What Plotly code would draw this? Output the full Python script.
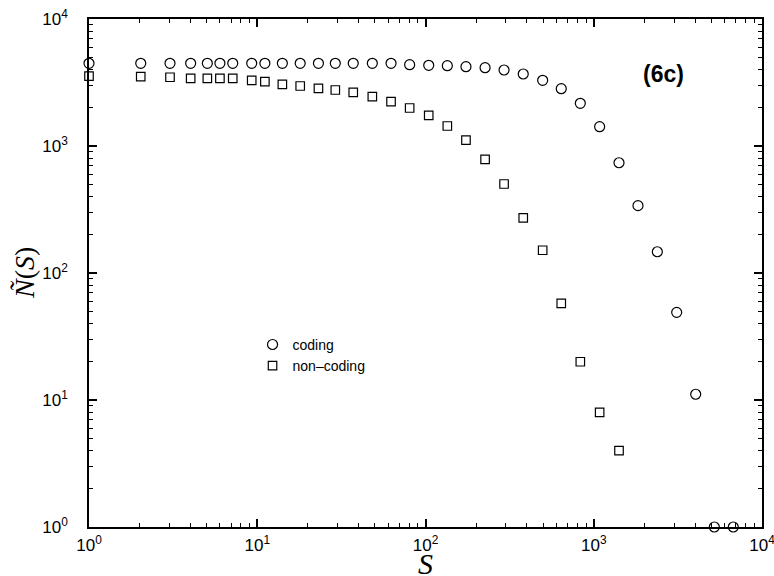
import plotly.graph_objects as go

# Data (log-binned S)
s_coding = [1, 2.03, 3.03, 4.02, 5.05, 6.0, 7.15, 9.27, 11.1, 14.1, 18.0, 23.1, 29.1, 37.2,
            48.3, 62.4, 80.5, 104.5, 134.8, 174, 226, 293, 381, 497, 641, 832, 1084, 1413,
            1832, 2387, 3111, 4036, 5207, 6750]
n_coding = [4480, 4480, 4480, 4480, 4480, 4480, 4480, 4480, 4480, 4480, 4480, 4480, 4480, 4480,
            4480, 4480, 4365, 4318, 4290, 4210, 4137, 3966, 3690, 3290, 2825, 2168, 1419, 738,
            339, 147, 49, 11.1, 1, 1]

s_noncoding = [1, 2.03, 3.03, 4.02, 5.05, 6.0, 7.15, 9.27, 11.1, 14.1, 18.0, 23.1, 29.1, 37.2,
               48.3, 62.4, 80.5, 104.5, 134.8, 174, 226, 293, 381, 497, 641, 832, 1084, 1413]
n_noncoding = [3556, 3514, 3477, 3414, 3414, 3414, 3414, 3290, 3208, 3060, 2967, 2845, 2760, 2648,
               2445, 2233, 1991, 1744, 1437, 1114, 785, 502, 272, 151, 57.7, 20, 8.0, 4.0]

tick_vals = [1, 10, 100, 1000, 10000]
tick_text = ["10<sup>0</sup>", "10<sup>1</sup>", "10<sup>2</sup>", "10<sup>3</sup>", "10<sup>4</sup>"]
minor_vals = [m * 10 ** d for d in range(4) for m in range(2, 10)]
axis_range = [0, 4]  # log10 range

fig = go.Figure()
fig.add_trace(go.Scatter(
    x=s_coding, y=n_coding, mode="markers", name="coding", cliponaxis=False,
    marker=dict(symbol="circle-open", size=10, color="black", line=dict(width=1.2, color="black")),
))
fig.add_trace(go.Scatter(
    x=s_noncoding, y=n_noncoding, mode="markers", name="non–coding", cliponaxis=False,
    marker=dict(symbol="square-open", size=8.5, color="black", line=dict(width=1.2, color="black")),
))
# empty helper traces so the minor-tick overlay axes get drawn
fig.add_trace(go.Scatter(x=[], y=[], xaxis="x2", yaxis="y", showlegend=False, hoverinfo="skip"))
fig.add_trace(go.Scatter(x=[], y=[], xaxis="x", yaxis="y2", showlegend=False, hoverinfo="skip"))

axis_common = dict(
    type="log", showgrid=False, zeroline=False, automargin=False,
    showline=True, linecolor="black", linewidth=1.5, mirror="ticks",
    ticks="inside", ticklen=8, tickwidth=1.5, tickcolor="black",
    tickmode="array", tickvals=tick_vals, ticktext=tick_text,
    ticklabeloverflow="allow",
    tickfont=dict(family="Liberation Sans, Arial", size=17, color="black"),
)
minor_common = dict(
    type="log", range=axis_range, showgrid=False, zeroline=False, automargin=False,
    showline=False, mirror="ticks", ticks="inside", ticklen=4, tickwidth=1.2,
    tickcolor="black", tickmode="array", tickvals=minor_vals, showticklabels=False,
)

fig.update_layout(
    width=774, height=576,
    margin=dict(l=89, r=12, t=19, b=49),
    paper_bgcolor="white", plot_bgcolor="white",
    showlegend=True,
    legend=dict(x=0.243, y=0.39, xanchor="left", yanchor="top",
                bgcolor="rgba(0,0,0,0)",
                font=dict(family="Liberation Sans, Arial", size=14, color="black")),
    xaxis=dict(axis_common, range=axis_range, ticklabelstandoff=2),
    yaxis=dict(axis_common, range=axis_range, ticklabelstandoff=16),
    xaxis2=dict(minor_common, overlaying="x", anchor="y", side="bottom"),
    yaxis2=dict(minor_common, overlaying="y", anchor="x", side="left"),
    annotations=[
        dict(x=0.853, y=0.892, xref="paper", yref="paper", text="<b>(6c)</b>",
             xanchor="center", yanchor="middle", showarrow=False,
             font=dict(family="Liberation Sans, Arial", size=23, color="black")),
        dict(x=0.5, y=-0.071, xref="paper", yref="paper", text="<i>S</i>",
             xanchor="center", yanchor="middle", showarrow=False,
             font=dict(family="Liberation Serif, Times New Roman", size=30, color="black")),
        dict(x=-0.0966, y=0.5, xref="paper", yref="paper", text="<i>Ñ</i>(<i>S</i>)",
             textangle=-90, xanchor="center", yanchor="middle", showarrow=False,
             font=dict(family="Liberation Serif, Times New Roman", size=28, color="black")),
    ],
)

fig.write_html("out.html")
